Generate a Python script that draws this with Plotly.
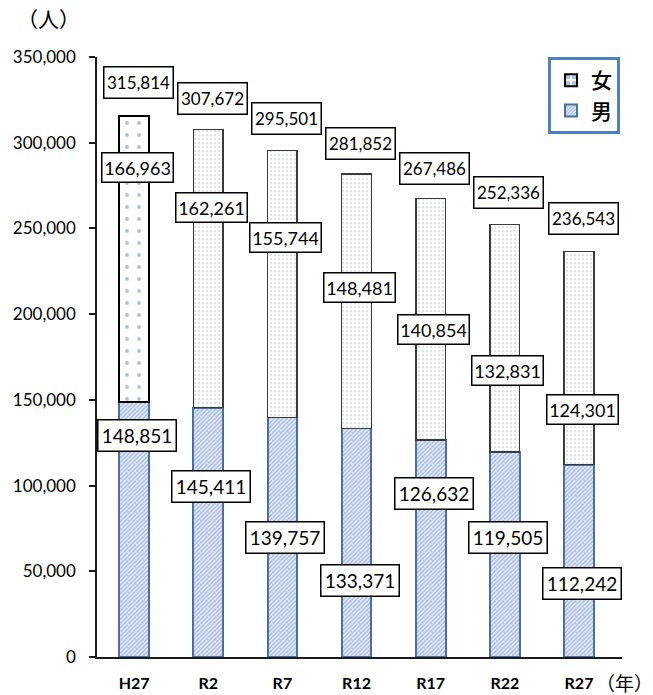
import plotly.graph_objects as go

years = ["H27", "R2", "R7", "R12", "R17", "R22", "R27"]
male = [148851, 145411, 139757, 133371, 126632, 119505, 112242]
female = [166963, 162261, 155744, 148481, 140854, 132831, 124301]
total = [315814, 307672, 295501, 281852, 267486, 252336, 236543]

# label anchor heights (data units) for the boxed labels
total_lbl_y = [335400, 326060, 314390, 299800, 285210, 271200, 256030]
female_lbl_y = [285790, 262450, 244940, 215760, 191250, 167320, 144560]
male_lbl_y = [129380, 99620, 69860, 44760, 95530, 69860, 43010]

NUM_FONT = "Lato, 'Open Sans', sans-serif"
CJK_FONT = "'Noto Sans CJK JP', sans-serif"

fig = go.Figure()
fig.add_trace(go.Bar(
    x=years, y=male, name="男", legendgroup="m",
    width=0.4,
    marker=dict(
        color="white",
        line=dict(color="#4A6FA8", width=2),
        pattern=dict(shape="/", fgcolor="#6A8AC2", bgcolor="#E3EAF5",
                     size=3, solidity=0.45, fillmode="overlay"),
    ),
    hoverinfo="skip",
))
fig.add_trace(go.Bar(
    x=years, y=female, name="女", legendgroup="f",
    width=0.4,
    marker=dict(
        color="white",
        line=dict(color=["#000000"] + ["#3A3A3A"] * 6,
                  width=[2] + [1.5] * 6),
        pattern=dict(shape=".", fgcolor=["#5F80BA"] + ["#A4B8D8"] * 6,
                     bgcolor="white",
                     size=[12] + [4] * 6, solidity=[0.08] + [0.2] * 6,
                     fillmode="overlay"),
    ),
    hoverinfo="skip",
))

annotations = []


def fmt(v):
    return f"{v:,}"


for i, yr in enumerate(years):
    annotations.append(dict(
        x=yr, y=total_lbl_y[i], xref="x", yref="y", text=fmt(total[i]),
        showarrow=False, xshift=4,
        font=dict(family=NUM_FONT, size=17, color="black"),
        bgcolor="white", bordercolor="black", borderwidth=1.5, borderpad=2,
        width=64, height=26,
    ))
    annotations.append(dict(
        x=yr, y=female_lbl_y[i], xref="x", yref="y", text=fmt(female[i]),
        showarrow=False, xshift=3,
        font=dict(family=NUM_FONT, size=18, color="black"),
        bgcolor="white", bordercolor="black", borderwidth=1.5, borderpad=2,
        width=66, height=24,
    ))
    annotations.append(dict(
        x=yr, y=male_lbl_y[i], xref="x", yref="y", text=fmt(male[i]),
        showarrow=False, xshift=3,
        font=dict(family=NUM_FONT, size=19, color="black"),
        bgcolor="white", bordercolor="black", borderwidth=1.5, borderpad=2,
        width=73, height=26,
    ))

W, H = 653, 695
ML, MR, MT, MB = 97, 31, 57, 38
pw = W - ML - MR
ph = H - MT - MB


def px_x(p):
    return (p - ML) / pw


def px_y(p):
    return 1 - (p - MT) / ph


annotations.append(dict(
    x=px_x(48), y=px_y(18), xref="paper", yref="paper", text="（人）",
    xanchor="center", yanchor="middle",
    showarrow=False, font=dict(family=CJK_FONT, size=21, color="black"),
))
annotations.append(dict(
    x=px_x(624), y=px_y(683), xref="paper", yref="paper", text="（年）",
    xanchor="center", yanchor="middle",
    showarrow=False, font=dict(family=CJK_FONT, size=19, color="black"),
))

fig.update_layout(
    width=W, height=H,
    margin=dict(l=ML, r=MR, t=MT, b=MB, pad=0, autoexpand=False),
    barmode="stack",
    plot_bgcolor="white", paper_bgcolor="white",
    showlegend=True,
    legend=dict(
        x=px_x(548), y=px_y(57), xanchor="left", yanchor="top",
        bordercolor="#4F81BD", borderwidth=3, bgcolor="white",
        font=dict(family=CJK_FONT, size=21, color="black", weight=500),
        traceorder="reversed", tracegroupgap=26, itemwidth=30,
    ),
    annotations=annotations,
    xaxis=dict(
        showline=True, linecolor="#1a1a1a", linewidth=1.5,
        ticks="", showgrid=False, automargin=False,
        tickfont=dict(family=NUM_FONT, size=16, color="black", weight="bold"),
        ticklabelstandoff=11,
    ),
    yaxis=dict(
        range=[0, 350000], dtick=50000, tickformat=",",
        showline=True, linecolor="#1a1a1a", linewidth=1.5,
        ticks="outside", ticklen=6, tickcolor="#1a1a1a", tickwidth=1.5,
        showgrid=False, zeroline=False, automargin=False,
        tickfont=dict(family=NUM_FONT, size=17, color="black"),
        ticklabelstandoff=10,
    ),
)

fig.write_html("out.html")
